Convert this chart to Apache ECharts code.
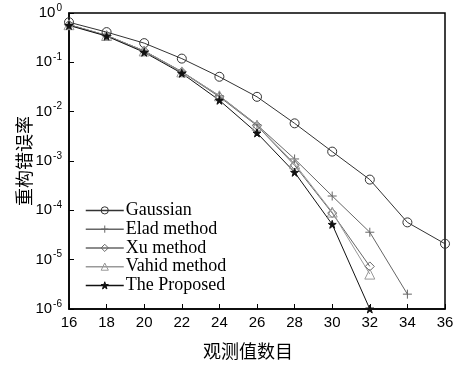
<!DOCTYPE html>
<html><head><meta charset="utf-8">
<script src="https://cdn.jsdelivr.net/npm/echarts@6/dist/echarts.min.js"></script>
<style>html,body{margin:0;padding:0;background:#fff}#c{width:460px;height:365px}</style>
</head><body><div id="c"></div>
<script>
const xTicks = [16,18,20,22,24,26,28,30,32,34,36];
const gaussianX = [16,18,20,22,24,26,28,30,32,34,36];
const gaussian = [0.65,0.41,0.245,0.119,0.051,0.020,0.0058,0.00155,0.00042,0.000057,0.000021];
const eladX = [16,18,20,22,24,26,28,30,32,34];
const elad = [0.58,0.35,0.17,0.065,0.021,0.0054,0.0011,0.000195,0.000036,0.0000020];
const xuX = [16,18,20,22,24,26,28,30,32];
const xu = [0.58,0.35,0.17,0.064,0.020,0.0052,0.00082,0.000088,0.0000073];
const vahidX = [16,18,20,22,24,26,28,30,32];
const vahid = [0.58,0.35,0.17,0.064,0.021,0.0053,0.00088,0.000092,0.0000051];
const propX = [16,18,20,22,24,26,28,30,32];
const proposed = [0.56,0.34,0.16,0.060,0.017,0.0037,0.00059,0.000052,0.000001];
const names = ['Gaussian','Elad method','Xu method','Vahid method','The Proposed'];

const pair = (xs, ys) => xs.map((x,i)=>[x, ys[i]]);
const star = 'path://M50,0L61.8,35.3L98.1,35.3L68.8,57.1L79.4,92.3L50,70.5L20.6,92.3L31.2,57.1L1.9,35.3L38.2,35.3Z';
const plus = 'path://M5,0L5,10M0,5L10,5';
function mk(name, data, color, symbol, size, fill){
  return {name, type:'line', data, symbol, symbolSize:size, showSymbol:true,
    lineStyle:{color, width:1}, itemStyle:{color:fill, borderColor:color, borderWidth:1},
    emphasis:{disabled:true}, z: 2};
}
const clear = 'rgba(0,0,0,0)';
const chart = echarts.init(document.getElementById('c'), null, {renderer:'canvas'});
chart.setOption({
  animation:false,
  backgroundColor:'#fff',
  grid:{left:69, right:15, top:13, bottom:54, show:true, borderColor:'#000', borderWidth:1.5},
  legend:{orient:'vertical', left:80, top:196, itemWidth:38, itemHeight:9, itemGap:0,
    itemStyle:{borderWidth:1}, lineStyle:{width:1.5},
    textStyle:{fontFamily:'Liberation Serif', fontSize:18, color:'#000', padding:[0,0,0,-3], lineHeight:18.75},
    data:[
      {name:names[0], itemStyle:{color:clear, borderWidth:1}},
      {name:names[1], itemStyle:{color:clear, borderWidth:1}},
      {name:names[2], itemStyle:{color:clear, borderWidth:1}},
      {name:names[3], itemStyle:{color:clear, borderWidth:1}},
      {name:names[4], itemStyle:{borderWidth:1}}
    ]},
  xAxis:{type:'value', min:16, max:36, interval:2,
    axisLine:{lineStyle:{color:'#000', width:1.5}}, axisTick:{inside:true, length:5, lineStyle:{color:'#000'}},
    splitLine:{show:false},
    axisLabel:{color:'#000', fontFamily:'Liberation Sans', fontSize:15, margin:6},
    name:'观测值数目', nameLocation:'middle', nameGap:33,
    nameTextStyle:{fontFamily:'Noto Sans CJK SC', fontSize:18, color:'#000', padding:[0,18,0,0]}},
  yAxis:{type:'log', logBase:10, min:1e-6, max:1,
    axisLine:{lineStyle:{color:'#000', width:1.5}}, axisTick:{inside:true, length:5, lineStyle:{color:'#000'}},
    minorTick:{show:false}, splitLine:{show:false},
    axisLabel:{color:'#000', fontFamily:'Liberation Sans', fontSize:15, margin:7,
      formatter:v=>'10{s|'+Math.round(Math.log10(v))+'}',
      rich:{s:{fontFamily:'Liberation Sans', fontSize:10, verticalAlign:'top', padding:[0,0,10,1], color:'#000'}}},
    name:'重构错误率', nameLocation:'middle', nameGap:36, nameRotate:90, nameMoveOverlap:false,
    nameTextStyle:{fontFamily:'Noto Sans CJK SC', fontSize:18, color:'#000'}},
  series:[
    mk(names[0], pair(gaussianX,gaussian), '#333', 'circle', 9, clear),
    mk(names[1], pair(eladX,elad), '#666', plus, 9, clear),
    mk(names[2], pair(xuX,xu), '#666', 'diamond', 9, clear),
    mk(names[3], pair(vahidX,vahid), '#999', 'triangle', 10, clear),
    mk(names[4], pair(propX,proposed), '#111', star, 8, '#111')
  ]
});
</script></body></html>
